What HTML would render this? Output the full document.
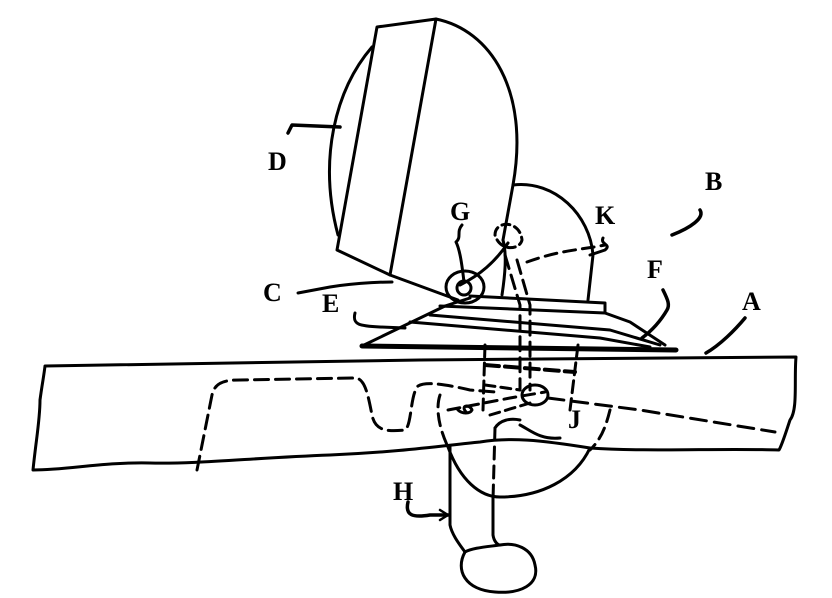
<!DOCTYPE html>
<html><head><meta charset="utf-8"><style>
html,body{margin:0;padding:0;background:#fff}
svg{display:block}
text{font-family:"Liberation Serif",serif;font-weight:bold;font-size:26px;fill:#000}
</style></head><body>
<svg width="832" height="598" viewBox="0 0 832 598" xmlns="http://www.w3.org/2000/svg">
<g fill="none" stroke="#000" stroke-width="3" stroke-linecap="round" stroke-linejoin="round">
<!-- table board -->
<path d="M45,366 L420,360 L796,357 C794,380 798,410 790,420 C785,435 782,445 779,450 C720,448 650,452 590,448 C540,440 510,437 480,442 C440,446 400,452 330,455 C250,458 200,464 150,463 C100,462 70,470 33,470 C36,440 40,420 40,400 C42,385 44,375 45,366 Z"/>
<!-- thick line -->
<path d="M362,346 L676,350" stroke-width="5"/>
<!-- base layers -->
<path d="M362,346 L445,306 L470,298"/>
<path d="M470,296 L605,303 L605,313"/>
<path d="M440,306 L605,313 L630,322 L665,345"/>
<path d="M430,315 L610,330 L660,345"/>
<path d="M410,322 L600,338 L650,347"/>
<!-- blade guard front rect -->
<path d="M377,27 L436,19 L390,275 L337,250 Z"/>
<path d="M390,275 L458,300"/>
<!-- left arc D -->
<path d="M372,47 C335,90 318,160 338,235"/>
<!-- right arc -->
<path d="M436,19 C490,30 530,90 513,185 L503,240"/>
<path d="M508,243 C495,262 480,275 460,285"/>
<path d="M503,240 C507,255 505,275 502,295"/>
<!-- rear arc K -->
<path d="M513,185 C555,180 590,215 593,255 L588,300"/>
<!-- G knob -->
<ellipse cx="465" cy="287" rx="19" ry="16"/>
<circle cx="464" cy="288" r="7"/>
<!-- slide bar -->
<path d="M517,260 L530,305 L530,390" stroke-dasharray="14 7"/>
<path d="M505,255 L520,305 L520,390" stroke-dasharray="14 7"/>
<path d="M495,235 C495,220 520,220 522,240 C520,250 500,252 495,235" stroke-dasharray="8 5"/>
<path d="M527,262 C560,250 580,250 605,245" stroke-dasharray="12 7"/>
<!-- dashed lower mechanism -->
<path d="M197,470 L212,395 C215,382 225,380 240,380 L355,378 C365,378 368,395 372,415 C375,430 385,432 405,430 C412,425 410,395 418,386 C425,382 440,383 470,390 L495,392" stroke-dasharray="14 7"/>
<path d="M485,345 L483,410 M578,345 L570,410" stroke-dasharray="12 6"/>
<path d="M485,365 L575,372" stroke-dasharray="14 6" stroke-width="4"/>
<path d="M485,385 L520,390" stroke-dasharray="10 6"/>
<ellipse cx="535" cy="395" rx="13" ry="10"/>
<path d="M548,398 L640,410 L775,432" stroke-dasharray="16 8"/>
<path d="M448,410 L510,398 L545,392" stroke-dasharray="12 7"/>
<path d="M440,395 C435,410 440,430 448,447" stroke-dasharray="12 7"/>
<path d="M610,410 C605,430 600,440 590,450" stroke-dasharray="12 7"/>
<path d="M490,415 L530,403" stroke-dasharray="10 6"/>
<path d="M466,412 C460,405 470,404 472,410 C470,414 462,414 458,410"/>
<path d="M520,425 C530,430 540,440 560,438"/>
<path d="M495,428 L493,500" stroke-dasharray="12 7"/>
<path d="M495,428 C500,420 510,418 520,420"/>
<!-- motor bowl -->
<path d="M448,447 C460,480 480,497 500,497 C540,497 575,480 590,448"/>
<!-- handle -->
<path d="M450,447 L450,525 C452,535 460,545 465,552"/>
<path d="M493,497 L493,535 C494,542 498,545 500,545"/>
<path d="M465,552 C455,570 465,590 495,592 C520,594 540,585 535,565 C532,548 515,542 500,545 C485,547 472,548 465,552 Z"/>
<!-- leaders -->
<path d="M288,133 L292,125 L340,127" stroke-width="3.5"/>
<path d="M298,293 L330,287 C360,282 390,282 392,282" stroke-width="3"/>
<path d="M355,313 C352,325 360,326 380,327 L405,328" stroke-width="3"/>
<path d="M462,225 C456,232 462,237 456,242 C460,250 462,265 464,282" stroke-width="3"/>
<path d="M603,238 C600,245 612,244 605,250 L590,255" stroke-width="3"/>
<path d="M700,210 C705,218 690,228 672,235" stroke-width="3.5"/>
<path d="M663,290 C668,300 670,305 667,310 C660,322 650,332 642,338" stroke-width="3.5"/>
<path d="M745,318 C735,330 720,345 706,353" stroke-width="3.5"/>
<path d="M408,502 C405,515 412,518 430,515 L448,515" stroke-width="3.5"/>
<path d="M448,515 L440,510 M448,515 L440,520" stroke-width="2.5"/>
</g>
<text x="268" y="170">D</text>
<text x="263" y="301">C</text>
<text x="322" y="312">E</text>
<text x="450" y="220">G</text>
<text x="595" y="224">K</text>
<text x="705" y="190">B</text>
<text x="647" y="278">F</text>
<text x="742" y="310">A</text>
<text x="568" y="428">J</text>
<text x="393" y="500">H</text>
</svg>
</body></html>
